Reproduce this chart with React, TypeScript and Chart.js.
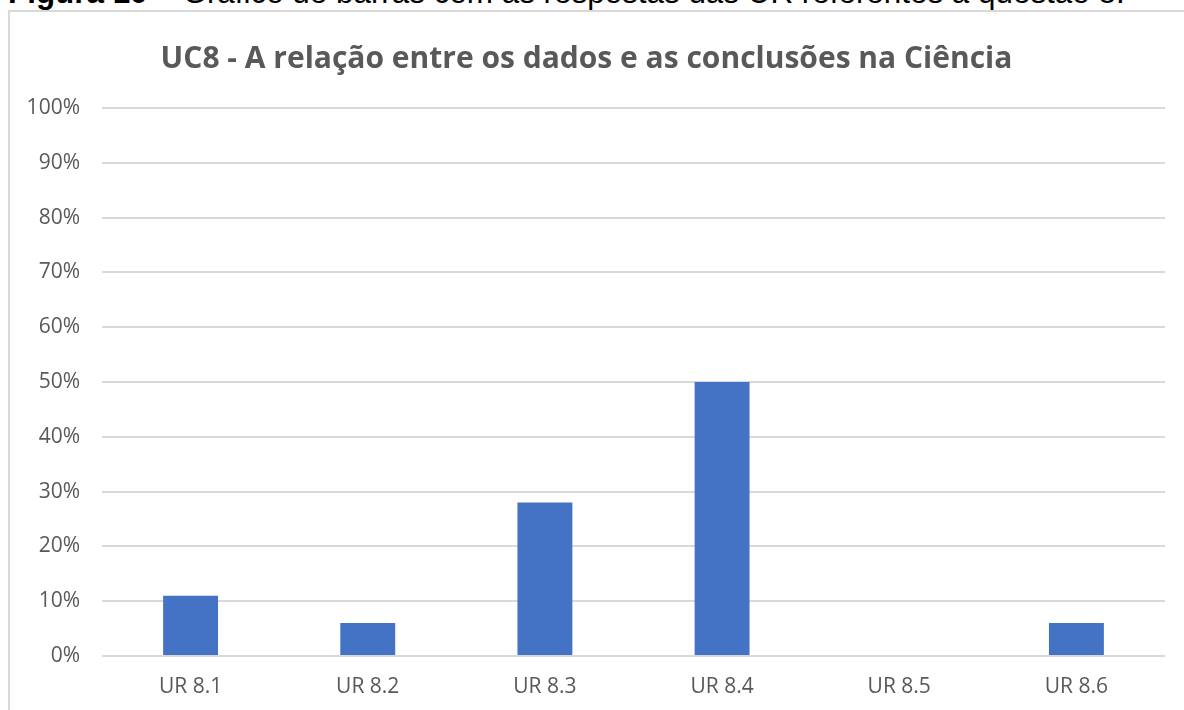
import React, { useEffect, useRef } from "react";
import { Chart, registerables } from "chart.js";

Chart.register(...registerables);

const categories = ["UR 8.1", "UR 8.2", "UR 8.3", "UR 8.4", "UR 8.5", "UR 8.6"];
const values = [11, 6, 28, 50, 0, 6];
const yTicks = [0, 10, 20, 30, 40, 50, 60, 70, 80, 90, 100];
const chartTitle = "UC8 - A relação entre os dados e as conclusões na Ciência";
const captionBold = "Figura 10";
const captionRest = " – Gráfico de barras com as respostas das UR referentes à questão 8.";

export default function App() {
  const canvasRef = useRef<HTMLCanvasElement | null>(null);

  useEffect(() => {
    if (!canvasRef.current) return;
    const chart = new Chart(canvasRef.current, {
      type: "bar",
      data: {
        labels: categories,
        datasets: [
          {
            data: values,
            backgroundColor: "#4472C4",
            borderWidth: 0,
            barPercentage: 0.31,
            categoryPercentage: 1,
          },
        ],
      },
      options: {
        responsive: false,
        animation: false,
        layout: { padding: { left: 8, right: 19, top: 10, bottom: 0 } },
        plugins: {
          legend: { display: false },
          tooltip: { enabled: false },
          title: {
            display: true,
            text: chartTitle,
            color: "#595959",
            font: { family: "'Open Sans', sans-serif", size: 30, weight: "bold", lineHeight: 1.2 },
            padding: { top: 31, bottom: 31 },
          },
        },
        scales: {
          x: {
            grid: { display: false, drawTicks: false },
            border: { display: false },
            ticks: {
              color: "#595959",
              font: { family: "'Open Sans', sans-serif", size: 21 },
              padding: 18,
            },
            afterFit: (s: any) => {
              s.height = 54;
            },
          },
          y: {
            min: 0,
            max: 100,
            afterBuildTicks: (s: any) => {
              s.ticks = yTicks.map((v) => ({ value: v }));
            },
            grid: { color: "#d9d9d9", lineWidth: 2, drawTicks: false },
            border: { display: false },
            ticks: {
              color: "#595959",
              font: { family: "'Open Sans', sans-serif", size: 21 },
              padding: 22,
              callback: (v: any) => v + "%",
            },
            afterFit: (s: any) => {
              s.width = 94;
            },
          },
        },
      },
    });
    return () => chart.destroy();
  }, []);

  return (
    <div
      style={{
        position: "fixed",
        left: 0,
        top: 0,
        width: 1184,
        height: 710,
        overflow: "hidden",
        background: "#fff",
      }}
    >
      <div
        style={{
          position: "absolute",
          left: 8,
          top: -25,
          whiteSpace: "nowrap",
          fontFamily: "'Liberation Sans', Arial, sans-serif",
          fontSize: 31.4,
          color: "#000",
          lineHeight: "36px",
        }}
      >
        <b>{captionBold}</b>
        {captionRest}
      </div>
      <div
        style={{
          position: "absolute",
          left: 8,
          top: 10,
          width: 1200,
          height: 720,
          border: "2px solid #d9d9d9",
          boxSizing: "border-box",
        }}
      />
      <canvas
        ref={canvasRef}
        width={1184}
        height={710}
        style={{ position: "absolute", left: 0, top: 0, width: 1184, height: 710 }}
      />
    </div>
  );
}
